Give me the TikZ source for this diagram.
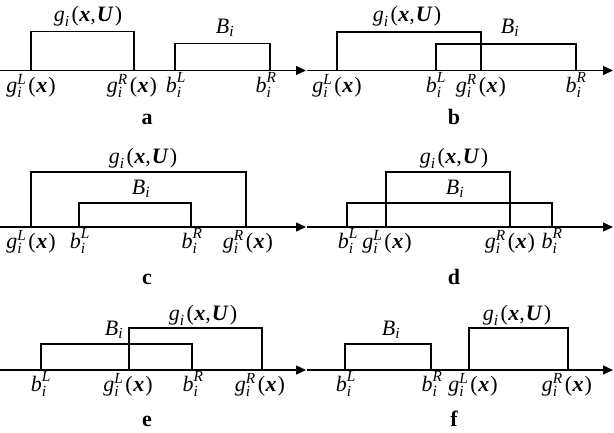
\documentclass[tikz,border=0pt]{standalone}
\usepackage{amsmath}
\usepackage{fontspec}
\setmainfont{Liberation Serif}
\usetikzlibrary{arrows.meta}
\newcommand{\mi}[1]{\textit{#1}}
\newcommand{\mbi}[1]{\textbf{\textit{#1}}}
\newcommand{\lp}{\textup{(}\kern0.5pt}
\newcommand{\rp}{\kern1pt\textup{)}}
\newcommand{\labG}{$\mi{g}_{\mi{i}}\kern2pt\lp\mbi{x}\textup{,}\kern1pt\mbi{U}\rp$}
\newcommand{\labGL}{$\mi{g}_{\mi{i}}^{\mi{L}}\kern2pt\lp\mbi{x}\rp$}
\newcommand{\labGR}{$\mi{g}_{\mi{i}}^{\mi{R}}\kern2pt\lp\mbi{x}\rp$}
\newcommand{\labBL}{$\mi{b}_{\mi{i}}^{\mi{L}}$}
\newcommand{\labBR}{$\mi{b}_{\mi{i}}^{\mi{R}}$}
\newcommand{\labB}{$\mi{B}_{\mi{i}}$}
\tikzset{
  axisline/.style={line width=1.4pt,-{Triangle[length=10pt,width=9pt]}},
  boxline/.style={line width=1.4pt},
  lab/.style={anchor=base,inner sep=0pt,font=\fontsize{22}{26}\selectfont},
  panellab/.style={anchor=base,inner sep=0pt,font=\fontsize{22}{26}\selectfont\bfseries}
}
\begin{document}
\begin{tikzpicture}[x=1pt,y=-1pt]
\useasboundingbox (0,0) rectangle (614,432);
% ---------- panel a ----------
\coordinate (a0) at (0,70.5); \coordinate (a1) at (306,70.5);
\draw[axisline] (a0) -- (a1);
\draw[boxline] (31,70.5) -- (31,31.7) -- (134,31.7) -- (134,70.5);
\draw[boxline] (175,70.5) -- (175,43.7) -- (270,43.7) -- (270,70.5);
\node[lab] (aG) at (88,21) {\labG};
\node[lab] (aB) at (225,33) {\labB};
\node[lab] (aGL) at (31,92) {\labGL};
\node[lab] (aGR) at (132,92) {\labGR};
\node[lab] (aBL) at (176,92) {\labBL};
\node[lab] (aBR) at (266,92) {\labBR};
\node[panellab] (la) at (147,124) {a};
% ---------- panel b ----------
\coordinate (b0) at (307,70.5); \coordinate (b1) at (613,70.5);
\draw[axisline] (b0) -- (b1);
\draw[boxline] (337,70.5) -- (337,32) -- (481,32) -- (481,70.5);
\draw[boxline] (436,70.5) -- (436,44) -- (576,44) -- (576,70.5);
\node[lab] (bG) at (407,21) {\labG};
\node[lab] (bB) at (510,33) {\labB};
\node[lab] (bGL) at (337,92) {\labGL};
\node[lab] (bBL) at (436,92) {\labBL};
\node[lab] (bGR) at (481,92) {\labGR};
\node[lab] (bBR) at (576,92) {\labBR};
\node[panellab] (lb) at (454,124) {b};
% ---------- panel c ----------
\coordinate (c0) at (0,227); \coordinate (c1) at (306,227);
\draw[axisline] (c0) -- (c1);
\draw[boxline] (31,227) -- (31,172) -- (246,172) -- (246,227);
\draw[boxline] (79,227) -- (79,203) -- (191,203) -- (191,227);
\node[lab] (cG) at (143,163) {\labG};
\node[lab] (cB) at (141,194) {\labB};
\node[lab] (cGL) at (31,248) {\labGL};
\node[lab] (cBL) at (80,248) {\labBL};
\node[lab] (cBR) at (192,248) {\labBR};
\node[lab] (cGR) at (248,248) {\labGR};
\node[panellab] (lc) at (147,284) {c};
% ---------- panel d ----------
\coordinate (d0) at (307,227); \coordinate (d1) at (613,227);
\draw[axisline] (d0) -- (d1);
\draw[boxline] (386,227) -- (386,172) -- (510,172) -- (510,227);
\draw[boxline] (347,227) -- (347,203) -- (552,203) -- (552,227);
\node[lab] (dG) at (454,163) {\labG};
\node[lab] (dB) at (455,194) {\labB};
\node[lab] (dBL) at (348,248) {\labBL};
\node[lab] (dGL) at (387,248) {\labGL};
\node[lab] (dGR) at (510,248) {\labGR};
\node[lab] (dBR) at (552,248) {\labBR};
\node[panellab] (ld) at (454,284) {d};
% ---------- panel e ----------
\coordinate (e0) at (0,370); \coordinate (e1) at (306,370);
\draw[axisline] (e0) -- (e1);
\draw[boxline] (41,370) -- (41,344) -- (192,344) -- (192,370);
\draw[boxline] (129,370) -- (129,328) -- (262,328) -- (262,370);
\node[lab] (eG) at (203,320) {\labG};
\node[lab] (eB) at (114,335) {\labB};
\node[lab] (eBL) at (41,391) {\labBL};
\node[lab] (eGL) at (128,391) {\labGL};
\node[lab] (eBR) at (193,391) {\labBR};
\node[lab] (eGR) at (260,391) {\labGR};
\node[panellab] (le) at (147,426) {e};
% ---------- panel f ----------
\coordinate (f0) at (307,370); \coordinate (f1) at (613,370);
\draw[axisline] (f0) -- (f1);
\draw[boxline] (345,370) -- (345,344) -- (431,344) -- (431,370);
\draw[boxline] (469,370) -- (469,328) -- (568,328) -- (568,370);
\node[lab] (fG) at (517,320) {\labG};
\node[lab] (fB) at (391,335) {\labB};
\node[lab] (fBL) at (346,391) {\labBL};
\node[lab] (fBR) at (432,391) {\labBR};
\node[lab] (fGL) at (473,391) {\labGL};
\node[lab] (fGR) at (567,391) {\labGR};
\node[panellab] (lf) at (454,426) {f};
\end{tikzpicture}
\end{document}
